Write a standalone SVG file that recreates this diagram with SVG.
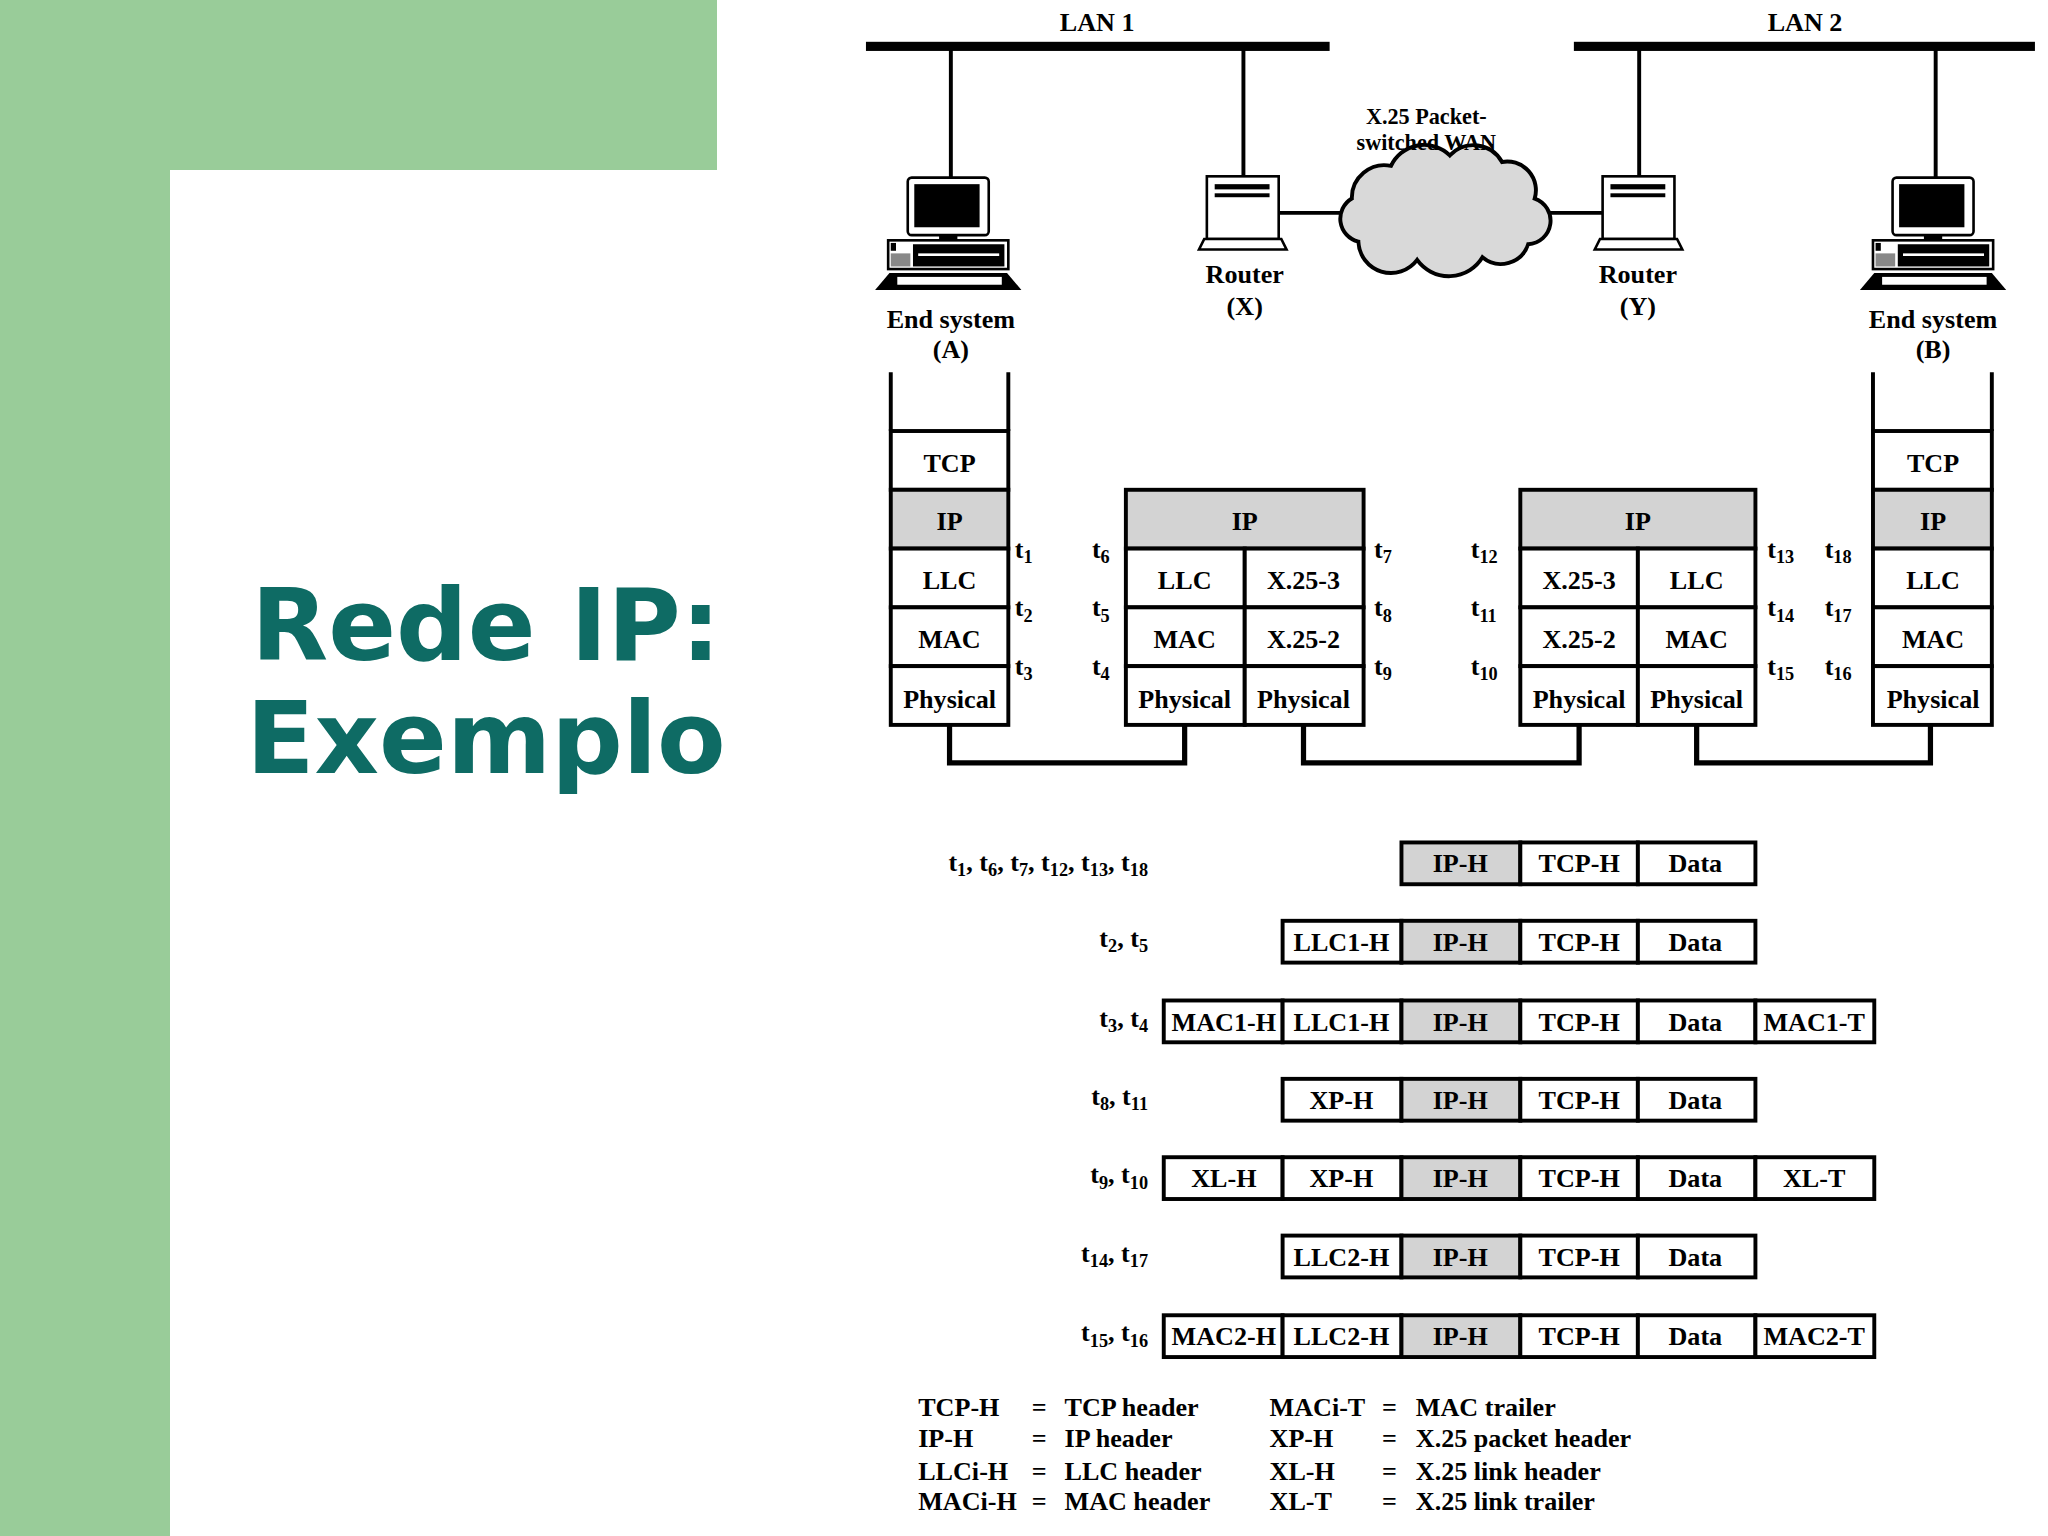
<svg xmlns="http://www.w3.org/2000/svg" width="2048" height="1536" viewBox="0 0 2048 1536">
<style>
.t{font-family:"Liberation Serif","Times New Roman",serif;font-weight:bold;font-size:20px;fill:#000}
.c{text-anchor:middle}
.r{text-anchor:end}
.s{font-size:14px}
.k{fill:none;stroke:#000;stroke-width:3}
.g{fill:#d3d3d3;stroke:#000;stroke-width:3}
.w{fill:#fff;stroke:#000;stroke-width:3}
.ln{fill:none;stroke:#000;stroke-width:3}
.bus{fill:none;stroke:#000;stroke-width:4}
.title{font-family:"DejaVu Sans",Verdana,sans-serif;font-weight:bold;font-size:100px;fill:#0e6b64;text-anchor:middle}
</style>
<rect width="2048" height="1536" fill="#fff"/>
<rect x="0" y="0" width="717" height="170" fill="#99cc99"/>
<rect x="0" y="0" width="170" height="1536" fill="#99cc99"/>
<path d="M170,235 A65,65 0 0 1 235,170 L717,170 L717,1536 L170,1536 Z" fill="#fff"/>
<g id="title">
<text class="title" x="486" y="660">Rede IP:</text>
<text class="title" x="486" y="773">Exemplo</text>
</g>
<g transform="scale(1.30612)">
<g id="lan">
<rect x="663" y="32" width="355" height="7" fill="#000"/>
<rect x="1205" y="32" width="353" height="7" fill="#000"/>
<text class="t c" x="840" y="24">LAN 1</text>
<text class="t c" x="1382" y="24">LAN 2</text>
<path class="ln" d="M728,35V138 M952,35V138 M1255,35V138 M1482,35V138 M977,163H1032 M1186,163H1228"/>
</g>
<g id="cloud">
<path d="M1040,185 a18,18 0 0 1 -5,-33 a25,25 0 0 1 30,-25 a28,28 0 0 1 45,-8 a25,25 0 0 1 40,5 a22,22 0 0 1 25,28 a18,18 0 0 1 -5,35 a22,22 0 0 1 -35,10 a30,30 0 0 1 -50,2 a25,25 0 0 1 -45,-14 z" fill="#d9d9d9" stroke="#000" stroke-width="3"/>
<text class="t c" x="1092" y="95" style="font-size:17px">X.25 Packet-</text>
<text class="t c" x="1092" y="115" style="font-size:17px">switched WAN</text>
</g>
<defs>
<g id="pc">
<rect x="-32" y="0" width="62" height="44" rx="3" fill="#fff" stroke="#000" stroke-width="2"/>
<rect x="-27" y="5" width="50" height="33" fill="#000"/>
<rect x="-8" y="44" width="14" height="4" fill="#000"/>
<rect x="-47" y="48" width="92" height="22" fill="#fff" stroke="#000" stroke-width="2"/>
<rect x="-45" y="50" width="4" height="6" fill="#000"/>
<rect x="-45" y="58" width="15" height="10" fill="#888"/>
<rect x="-28" y="51" width="70" height="17" fill="#000"/>
<rect x="-24" y="58" width="62" height="2" fill="#fff"/>
<path d="M-46,73 H44 L55,86 H-57 Z" fill="#000"/>
<rect x="-40" y="76" width="80" height="6" fill="#fff"/>
</g>
<g id="router">
<rect x="-28" y="0" width="55" height="48" fill="#fff" stroke="#000" stroke-width="2"/>
<rect x="-22" y="6" width="42" height="4" fill="#000"/>
<rect x="-22" y="13" width="42" height="3" fill="#000"/>
<path d="M-30,48 H29 L33,56 H-34 Z" fill="#fff" stroke="#000" stroke-width="2"/>
</g>
</defs>
<g id="endA"><use href="#pc" x="727" y="136"/><text class="t c" x="728" y="251">End system</text><text class="t c" x="728" y="274">(A)</text></g>
<g id="routerX"><use href="#router" x="952" y="135"/><text class="t c" x="953" y="217">Router</text><text class="t c" x="953" y="241">(X)</text></g>
<g id="routerY"><use href="#router" x="1255" y="135"/><text class="t c" x="1254" y="217">Router</text><text class="t c" x="1254" y="241">(Y)</text></g>
<g id="endB"><use href="#pc" x="1481" y="136"/><text class="t c" x="1480" y="251">End system</text><text class="t c" x="1480" y="274">(B)</text></g>

<g id="stackA">
<path class="k" d="M682,285V330 M772,285V330"/>
<rect class="w" x="682" y="330" width="90" height="45"/>
<rect class="g" x="682" y="375" width="90" height="45"/>
<rect class="w" x="682" y="420" width="90" height="45"/>
<rect class="w" x="682" y="465" width="90" height="45"/>
<rect class="w" x="682" y="510" width="90" height="45"/>
<text class="t c" x="727" y="361">TCP</text><text class="t c" x="727" y="406">IP</text><text class="t c" x="727" y="451">LLC</text><text class="t c" x="727" y="496">MAC</text><text class="t c" x="727" y="542">Physical</text>
<text class="t" x="777" y="427">t<tspan class="s" dy="4">1</tspan></text>
<text class="t" x="777" y="472">t<tspan class="s" dy="4">2</tspan></text>
<text class="t" x="777" y="517">t<tspan class="s" dy="4">3</tspan></text>
</g>
<g id="stackX">
<rect class="g" x="862" y="375" width="182" height="45"/>
<rect class="w" x="862" y="420" width="91" height="45"/><rect class="w" x="953" y="420" width="91" height="45"/>
<rect class="w" x="862" y="465" width="91" height="45"/><rect class="w" x="953" y="465" width="91" height="45"/>
<rect class="w" x="862" y="510" width="91" height="45"/><rect class="w" x="953" y="510" width="91" height="45"/>
<text class="t c" x="953" y="406">IP</text>
<text class="t c" x="907" y="451">LLC</text><text class="t c" x="998" y="451">X.25-3</text>
<text class="t c" x="907" y="496">MAC</text><text class="t c" x="998" y="496">X.25-2</text>
<text class="t c" x="907" y="542">Physical</text><text class="t c" x="998" y="542">Physical</text>
<text class="t" x="836" y="427">t<tspan class="s" dy="4">6</tspan></text>
<text class="t" x="836" y="472">t<tspan class="s" dy="4">5</tspan></text>
<text class="t" x="836" y="517">t<tspan class="s" dy="4">4</tspan></text>
<text class="t" x="1052" y="427">t<tspan class="s" dy="4">7</tspan></text>
<text class="t" x="1052" y="472">t<tspan class="s" dy="4">8</tspan></text>
<text class="t" x="1052" y="517">t<tspan class="s" dy="4">9</tspan></text>
</g>
<g id="stackY">
<rect class="g" x="1164" y="375" width="180" height="45"/>
<rect class="w" x="1164" y="420" width="90" height="45"/><rect class="w" x="1254" y="420" width="90" height="45"/>
<rect class="w" x="1164" y="465" width="90" height="45"/><rect class="w" x="1254" y="465" width="90" height="45"/>
<rect class="w" x="1164" y="510" width="90" height="45"/><rect class="w" x="1254" y="510" width="90" height="45"/>
<text class="t c" x="1254" y="406">IP</text>
<text class="t c" x="1209" y="451">X.25-3</text><text class="t c" x="1299" y="451">LLC</text>
<text class="t c" x="1209" y="496">X.25-2</text><text class="t c" x="1299" y="496">MAC</text>
<text class="t c" x="1209" y="542">Physical</text><text class="t c" x="1299" y="542">Physical</text>
<text class="t" x="1126" y="427">t<tspan class="s" dy="4">12</tspan></text>
<text class="t" x="1126" y="472">t<tspan class="s" dy="4">11</tspan></text>
<text class="t" x="1126" y="517">t<tspan class="s" dy="4">10</tspan></text>
<text class="t" x="1353" y="427">t<tspan class="s" dy="4">13</tspan></text>
<text class="t" x="1353" y="472">t<tspan class="s" dy="4">14</tspan></text>
<text class="t" x="1353" y="517">t<tspan class="s" dy="4">15</tspan></text>
</g>
<g id="stackB">
<path class="k" d="M1434,285V330 M1525,285V330"/>
<rect class="w" x="1434" y="330" width="91" height="45"/>
<rect class="g" x="1434" y="375" width="91" height="45"/>
<rect class="w" x="1434" y="420" width="91" height="45"/>
<rect class="w" x="1434" y="465" width="91" height="45"/>
<rect class="w" x="1434" y="510" width="91" height="45"/>
<text class="t c" x="1480" y="361">TCP</text><text class="t c" x="1480" y="406">IP</text><text class="t c" x="1480" y="451">LLC</text><text class="t c" x="1480" y="496">MAC</text><text class="t c" x="1480" y="542">Physical</text>
<text class="t" x="1397" y="427">t<tspan class="s" dy="4">18</tspan></text>
<text class="t" x="1397" y="472">t<tspan class="s" dy="4">17</tspan></text>
<text class="t" x="1397" y="517">t<tspan class="s" dy="4">16</tspan></text>
</g>
<g id="connectors">
<path class="bus" d="M727,555V584H907V555"/>
<path class="bus" d="M998,555V584H1209V555"/>
<path class="bus" d="M1299,555V584H1478V555"/>
</g>

<g id="packets" style="font-size:18px">
<g id="p1">
<rect class="g" x="1073" y="645" width="91" height="32"/><rect class="w" x="1164" y="645" width="90" height="32"/><rect class="w" x="1254" y="645" width="90" height="32"/>
<text class="t c" x="1118" y="668">IP-H</text><text class="t c" x="1209" y="668">TCP-H</text><text class="t c" x="1298" y="668">Data</text>
<text class="t r" x="879" y="667">t<tspan class="s" dy="4">1</tspan><tspan dy="-4">, t</tspan><tspan class="s" dy="4">6</tspan><tspan dy="-4">, t</tspan><tspan class="s" dy="4">7</tspan><tspan dy="-4">, t</tspan><tspan class="s" dy="4">12</tspan><tspan dy="-4">, t</tspan><tspan class="s" dy="4">13</tspan><tspan dy="-4">, t</tspan><tspan class="s" dy="4">18</tspan></text>
</g>
<g id="p2">
<rect class="w" x="982" y="705" width="91" height="32"/><rect class="g" x="1073" y="705" width="91" height="32"/><rect class="w" x="1164" y="705" width="90" height="32"/><rect class="w" x="1254" y="705" width="90" height="32"/>
<text class="t c" x="1027" y="728">LLC1-H</text><text class="t c" x="1118" y="728">IP-H</text><text class="t c" x="1209" y="728">TCP-H</text><text class="t c" x="1298" y="728">Data</text>
<text class="t r" x="879" y="725">t<tspan class="s" dy="4">2</tspan><tspan dy="-4">, t</tspan><tspan class="s" dy="4">5</tspan></text>
</g>
<g id="p3">
<rect class="w" x="891" y="766" width="91" height="32"/><rect class="w" x="982" y="766" width="91" height="32"/><rect class="g" x="1073" y="766" width="91" height="32"/><rect class="w" x="1164" y="766" width="90" height="32"/><rect class="w" x="1254" y="766" width="90" height="32"/><rect class="w" x="1344" y="766" width="91" height="32"/>
<text class="t c" x="937" y="789">MAC1-H</text><text class="t c" x="1027" y="789">LLC1-H</text><text class="t c" x="1118" y="789">IP-H</text><text class="t c" x="1209" y="789">TCP-H</text><text class="t c" x="1298" y="789">Data</text><text class="t c" x="1389" y="789">MAC1-T</text>
<text class="t r" x="879" y="786">t<tspan class="s" dy="4">3</tspan><tspan dy="-4">, t</tspan><tspan class="s" dy="4">4</tspan></text>
</g>
<g id="p4">
<rect class="w" x="982" y="826" width="91" height="32"/><rect class="g" x="1073" y="826" width="91" height="32"/><rect class="w" x="1164" y="826" width="90" height="32"/><rect class="w" x="1254" y="826" width="90" height="32"/>
<text class="t c" x="1027" y="849">XP-H</text><text class="t c" x="1118" y="849">IP-H</text><text class="t c" x="1209" y="849">TCP-H</text><text class="t c" x="1298" y="849">Data</text>
<text class="t r" x="879" y="846">t<tspan class="s" dy="4">8</tspan><tspan dy="-4">, t</tspan><tspan class="s" dy="4">11</tspan></text>
</g>
<g id="p5">
<rect class="w" x="891" y="886" width="91" height="32"/><rect class="w" x="982" y="886" width="91" height="32"/><rect class="g" x="1073" y="886" width="91" height="32"/><rect class="w" x="1164" y="886" width="90" height="32"/><rect class="w" x="1254" y="886" width="90" height="32"/><rect class="w" x="1344" y="886" width="91" height="32"/>
<text class="t c" x="937" y="909">XL-H</text><text class="t c" x="1027" y="909">XP-H</text><text class="t c" x="1118" y="909">IP-H</text><text class="t c" x="1209" y="909">TCP-H</text><text class="t c" x="1298" y="909">Data</text><text class="t c" x="1389" y="909">XL-T</text>
<text class="t r" x="879" y="906">t<tspan class="s" dy="4">9</tspan><tspan dy="-4">, t</tspan><tspan class="s" dy="4">10</tspan></text>
</g>
<g id="p6">
<rect class="w" x="982" y="946" width="91" height="32"/><rect class="g" x="1073" y="946" width="91" height="32"/><rect class="w" x="1164" y="946" width="90" height="32"/><rect class="w" x="1254" y="946" width="90" height="32"/>
<text class="t c" x="1027" y="969">LLC2-H</text><text class="t c" x="1118" y="969">IP-H</text><text class="t c" x="1209" y="969">TCP-H</text><text class="t c" x="1298" y="969">Data</text>
<text class="t r" x="879" y="966">t<tspan class="s" dy="4">14</tspan><tspan dy="-4">, t</tspan><tspan class="s" dy="4">17</tspan></text>
</g>
<g id="p7">
<rect class="w" x="891" y="1007" width="91" height="32"/><rect class="w" x="982" y="1007" width="91" height="32"/><rect class="g" x="1073" y="1007" width="91" height="32"/><rect class="w" x="1164" y="1007" width="90" height="32"/><rect class="w" x="1254" y="1007" width="90" height="32"/><rect class="w" x="1344" y="1007" width="91" height="32"/>
<text class="t c" x="937" y="1030">MAC2-H</text><text class="t c" x="1027" y="1030">LLC2-H</text><text class="t c" x="1118" y="1030">IP-H</text><text class="t c" x="1209" y="1030">TCP-H</text><text class="t c" x="1298" y="1030">Data</text><text class="t c" x="1389" y="1030">MAC2-T</text>
<text class="t r" x="879" y="1027">t<tspan class="s" dy="4">15</tspan><tspan dy="-4">, t</tspan><tspan class="s" dy="4">16</tspan></text>
</g>
</g>
<g id="legend" style="font-size:18px">
<text class="t" x="703" y="1084">TCP-H</text><text class="t" x="790" y="1084">=</text><text class="t" x="815" y="1084">TCP header</text>
<text class="t" x="703" y="1108">IP-H</text><text class="t" x="790" y="1108">=</text><text class="t" x="815" y="1108">IP header</text>
<text class="t" x="703" y="1133">LLCi-H</text><text class="t" x="790" y="1133">=</text><text class="t" x="815" y="1133">LLC header</text>
<text class="t" x="703" y="1156">MACi-H</text><text class="t" x="790" y="1156">=</text><text class="t" x="815" y="1156">MAC header</text>
<text class="t" x="972" y="1084">MACi-T</text><text class="t" x="1058" y="1084">=</text><text class="t" x="1084" y="1084">MAC trailer</text>
<text class="t" x="972" y="1108">XP-H</text><text class="t" x="1058" y="1108">=</text><text class="t" x="1084" y="1108">X.25 packet header</text>
<text class="t" x="972" y="1133">XL-H</text><text class="t" x="1058" y="1133">=</text><text class="t" x="1084" y="1133">X.25 link header</text>
<text class="t" x="972" y="1156">XL-T</text><text class="t" x="1058" y="1156">=</text><text class="t" x="1084" y="1156">X.25 link trailer</text>
</g>
</g>
</svg>
